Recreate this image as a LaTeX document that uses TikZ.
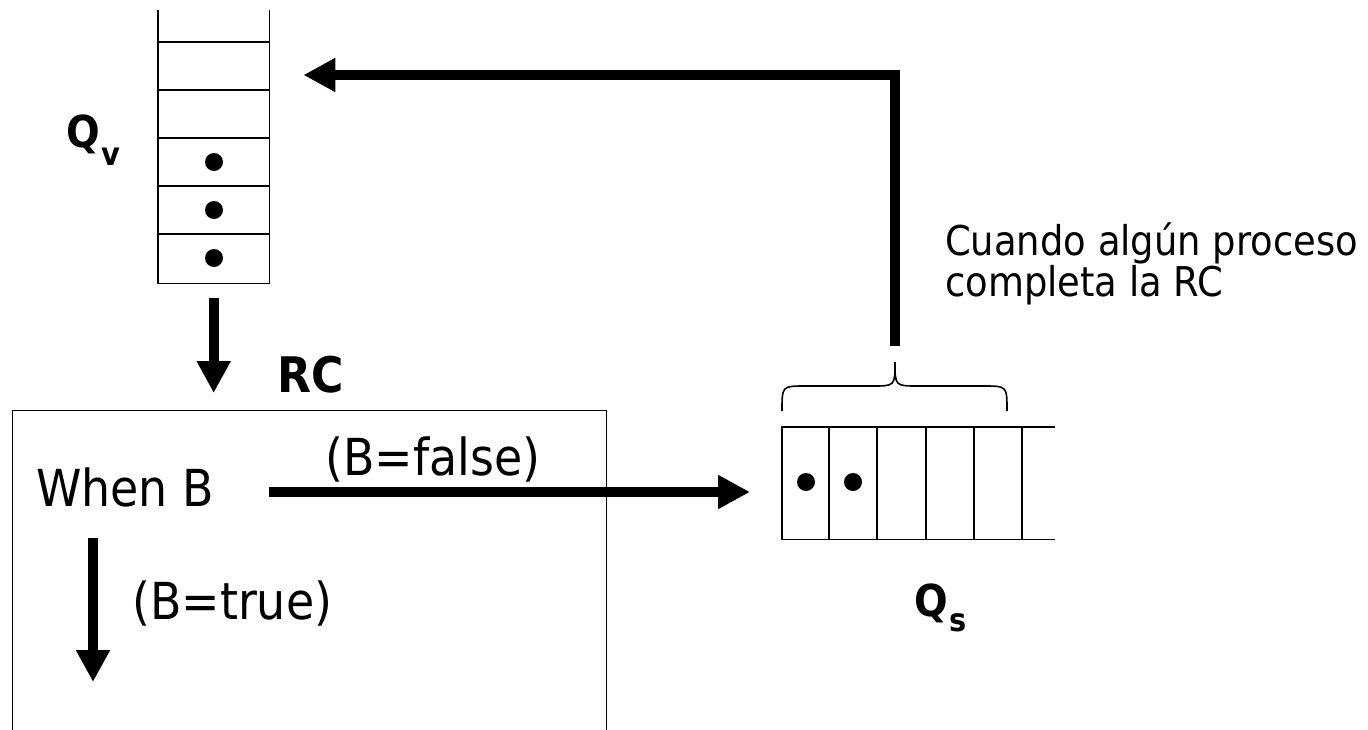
\documentclass[tikz,border=0pt]{standalone}
\usepackage{fontspec}
\setmainfont{DejaVu Sans}[FakeStretch=0.9]
\usetikzlibrary{arrows.meta}
\begin{document}
\begin{tikzpicture}[x=1pt,y=-1pt,
  thinline/.style={line width=1.6pt},
  bigarrow/.style={line width=10pt,-{Triangle[length=32pt,width=32pt]},line join=miter},
  dotmark/.style={circle,fill=black,inner sep=0pt,minimum size=18pt},
  lbl/.style={inner sep=0pt,anchor=base west,font=\fontsize{51}{61}\selectfont},
  boldlbl/.style={inner sep=0pt,anchor=base west,font=\fontsize{49}{59}\selectfont\bfseries},
  qlbl/.style={inner sep=0pt,anchor=base west,font=\fontsize{44}{52}\selectfont\bfseries},
  sublbl/.style={inner sep=0pt,anchor=base west,font=\fontsize{32}{38}\selectfont\bfseries},
  notelbl/.style={inner sep=0pt,anchor=base west,font=\fontsize{41}{49}\selectfont}]
\clip (0,0) rectangle (1368,729);
% ---- vertical queue Qv ----
\node[inner sep=0pt,minimum width=111pt,minimum height=273pt,anchor=north west] (vstack) at (158,10) {};
\draw[thinline] (vstack.north west) -- (vstack.south west) -- (vstack.south east) -- (vstack.north east);
\foreach \yy in {42,90,138,186,234} \draw[thinline] (158,\yy) -- (269,\yy);
\node[dotmark] (vd1) at (214,162) {};
\node[dotmark] (vd2) at (214,210) {};
\node[dotmark] (vd3) at (214,258) {};
\node[qlbl] (qv) at (66,147) {Q};
\node[sublbl] (qvsub) at (101,165) {v};
% ---- RC box ----
\node[draw,line width=1.2pt,inner sep=0pt,minimum width=594pt,minimum height=340pt,anchor=north west] (rcbox) at (12,410) {};
\node[boldlbl] (rc) at (277,392) {RC};
\node[lbl] (whenb) at (36,506) {When B};
\node[lbl] (bfalse) at (325,475) {(B=false)};
\node[lbl] (btrue) at (132,619) {(B=true)};
% ---- horizontal queue Qs ----
\node[inner sep=0pt,minimum width=273pt,minimum height=112pt,anchor=north west] (qqueue) at (782,427) {};
\draw[thinline] (qqueue.north east) -- (qqueue.north west) -- (qqueue.south west) -- (qqueue.south east);
\foreach \xx in {829,877,926,974,1022} \draw[thinline] (\xx,427) -- (\xx,539);
\node[dotmark] (qd1) at (806,482) {};
\node[dotmark] (qd2) at (853,482) {};
\node[qlbl] (qs) at (914,616) {Q};
\node[sublbl] (qssub) at (949,631) {s};
% ---- brace ----
\coordinate (bracetip) at (895,362);
\draw[thinline] (782,411) .. controls (782,386) .. (805,386) -- (872,386)
  .. controls (895,386) .. (bracetip) .. controls (895,386) .. (918,386)
  -- (984,386) .. controls (1007,386) .. (1007,411);
\node[notelbl,align=left] (note1) at (945,255) {Cuando algún proceso};
\node[notelbl,align=left] (note2) at (945,296) {completa la RC};
% ---- connectors ----
\coordinate (qvin) at ([xshift=34pt,yshift=-65pt]vstack.north east);
\draw[bigarrow] ([yshift=16pt]bracetip) |- (qvin);
\draw[bigarrow] ([yshift=-15pt]vstack.south) -- ([yshift=17pt]vstack.south |- rcbox.north);
\coordinate (falsestart) at ([xshift=55pt]whenb.east |- 0,492);
\draw[bigarrow,shorten >=32pt] (falsestart) -- (falsestart -| qqueue.west);
\coordinate (truestart) at ([xshift=57pt]whenb.base west |- 0,538);
\coordinate (trueend) at (truestart |- 0,682);
\draw[bigarrow] (truestart) -- (trueend);
\end{tikzpicture}
\end{document}
